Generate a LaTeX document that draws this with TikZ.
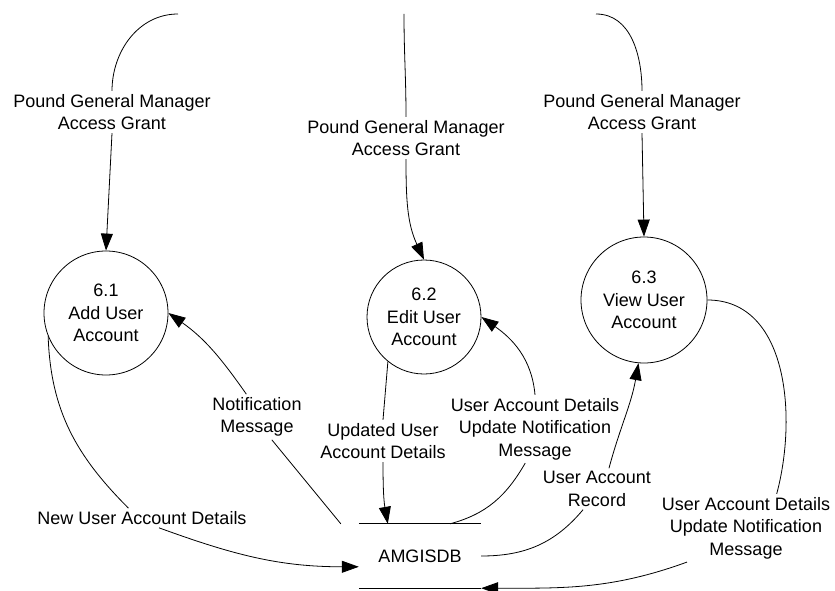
\documentclass[tikz,border=0pt]{standalone}
\usepackage{fontspec}
\setmainfont{Liberation Sans}
\usetikzlibrary{arrows.meta}

\begin{document}
\begin{tikzpicture}[x=1pt,y=-1pt,line join=round,
    every node/.style={font=\fontsize{18}{22.5}\selectfont,align=center},
    process/.style={draw,circle,line width=0.8pt,inner sep=0pt},
    flowlabel/.style={inner sep=3pt},
    plain/.style={line width=0.8pt},
    flow/.style={plain,-{Triangle[length=17pt,width=12pt]}}]
  % Coordinates are read as pixels of the 835 x 591 sheet,
  % with y growing downwards.
  \useasboundingbox (0,0) rectangle (835,591);

  % The three processes of level 6
  \node[process,minimum size=124pt] (p61) at (106,313) {6.1\\Add User\\Account};
  \node[process,minimum size=114pt] (p62) at (424,317) {6.2\\Edit User\\Account};
  \node[process,minimum size=126pt] (p63) at (644,300) {6.3\\View User\\Account};

  % The data store is only a top and a bottom line
  \node[minimum width=122pt,minimum height=64pt,inner sep=0pt] (db) at (420,556) {AMGISDB};
  \draw[plain] (db.north west) -- (db.north east);
  \draw[plain] (db.south west) -- (db.south east);

  % Free ends of the incoming grants at the top edge
  \coordinate (g1) at (178,14);
  \coordinate (g2) at (404,14);
  \coordinate (g3) at (596,14);

  % Labels sitting on the flows
  \node[flowlabel] (l1) at (112,112) {Pound General Manager\\Access Grant};
  \node[flowlabel] (l2) at (406,138) {Pound General Manager\\Access Grant};
  \node[flowlabel] (l3) at (642,112) {Pound General Manager\\Access Grant};
  \node[flowlabel] (lnot) at (257,417) {Notification\\Message};
  \node[flowlabel] (lnew) at (142,518) {New User Account Details};
  \node[flowlabel] (lupd) at (383,441) {Updated User\\Account Details};
  \node[flowlabel] (lupd2) at (535,429) {User Account Details\\Update Notification\\Message};
  \node[flowlabel] (lrec) at (597,489) {User Account\\Record};
  \node[flowlabel] (lupd3) at (746,528) {User Account Details\\Update Notification\\Message};

  % Access grants coming down into each process
  \draw[plain] (g1) to[out=180,in=90] (l1.north);
  \draw[flow] (l1.south) -- (p61.north);
  \draw[plain] (g2) to[out=-90,in=90] (l2.north);
  \draw[flow] (l2.south) to[out=-90,in=115] (p62.north);
  \draw[plain] (g3) to[out=0,in=90] (l3.north);
  \draw[flow] (l3.south) -- (p63.north);

  % 6.1 <-> store
  \draw[plain] ([xshift=-18pt]db.north west) -- (lnot.-57);
  \draw[flow] (lnot.115) to[out=125,in=-35] (p61.east);
  \draw[plain] (p61.202) to[out=-88,in=135] (lnew.144);
  \draw[flow] (lnew.-30) to[out=-20,in=180] (db.190);

  % 6.2 <-> store
  \draw[plain] (p62.231) -- (lupd.north);
  \draw[flow] (lupd.south) to[out=-90,in=100] (db.135);
  \draw[plain] (db.47) to[out=15,in=-120] (lupd2.254);
  \draw[flow] (lupd2.north) to[out=95,in=-35] (p62.east);

  % 6.3 <-> store
  \draw[plain] (db.east) to[out=0,in=-130] (lrec.236);
  \draw[flow] (lrec.60) to[out=75,in=-100] (p63.265);
  \draw[plain] (p63.east) to[out=0,in=75] (lupd3.48);
  \draw[flow] (lupd3.210) to[out=200,in=0] (db.south east);
\end{tikzpicture}
\end{document}
